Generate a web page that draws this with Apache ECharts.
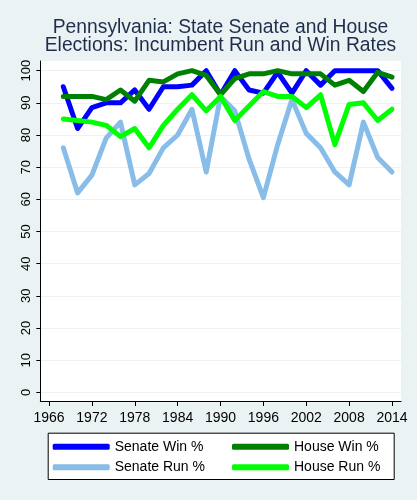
<!DOCTYPE html>
<html>
<head>
<meta charset="utf-8">
<script src="https://cdn.jsdelivr.net/npm/echarts@6/dist/echarts.min.js"></script>
<style>
html,body{margin:0;padding:0;background:#eaf2f3;}
#chart{width:417px;height:500px;}
</style>
</head>
<body>
<div id="chart"></div>
<script>
var years = [1968,1970,1972,1974,1976,1978,1980,1982,1984,1986,1988,1990,1992,1994,1996,1998,2000,2002,2004,2006,2008,2010,2012,2014];
var senateWin = [95,82,88.5,90,90,94,88,95,95,95.5,100,92.5,100,94,93,99.5,93,100,95.5,100,100,100,100,94.5];
var houseWin  = [92,92,92,91,94,90.5,97,96.5,99,100,98.5,92.5,97.5,99,99,100,99,99,99,95.5,97,93.5,99.5,98];
var senateRun = [76,62,67.5,79,84,64.5,68,76,80,88,68.5,92,87.5,72.5,60.5,77,91,80.5,76,68.5,64.5,84,73,68.5];
var houseRun  = [85,84.5,84,83,79.5,82,76,83,88,92.5,87.5,92,84.5,89,93.5,92,92,88.5,92.5,77,89.5,90,84.5,88];
var xTicks = [1966,1972,1978,1984,1990,1996,2002,2008,2014];
var yTicks = [0,10,20,30,40,50,60,70,80,90,100];

function pairs(vals){ return years.map(function(y,i){ return [y, vals[i]]; }); }

var chart = echarts.init(document.getElementById('chart'), null, {renderer:'canvas'});
var font = 'Liberation Sans, Arial, Helvetica, sans-serif';
function line(name, vals, color){
  return {
    name: name, type: 'line', data: pairs(vals), showSymbol: false, symbol: 'none',
    lineStyle: {color: color, width: 5, join: 'round', cap: 'round'},
    itemStyle: {color: color}, animation: false
  };
}
chart.setOption({
  backgroundColor: '#eaf2f3',
  animation: false,
  title: {
    text: 'Pennsylvania: State Senate and House\nElections: Incumbent Run and Win Rates',
    left: 220.5, top: 18.5, padding: 0, textAlign: 'center',
    textStyle: {fontFamily: font, fontSize: 19.3, fontWeight: 'normal', color: '#1f2d4d', lineHeight: 18}
  },
  grid: {left: 40.3, right: 16, top: 61, bottom: 99, show: true, backgroundColor: '#ffffff', borderWidth: 0, containLabel: false},
  xAxis: {
    type: 'value', min: 1964.78, max: 2015.26,
    axisLine: {show: true, onZero: false, lineStyle: {color: '#000', width: 1}},
    axisTick: {show: true, length: 5, lineStyle: {color: '#000'}, customValues: xTicks},
    axisLabel: {show: true, customValues: xTicks, fontFamily: font, fontSize: 14, color: '#000', margin: 10, formatter: function(v){return String(v);}},
    splitLine: {show: false}
  },
  yAxis: {
    type: 'value', min: -2.7, max: 103,
    axisLine: {show: true, onZero: false, lineStyle: {color: '#000', width: 1}},
    axisTick: {show: true, length: 4, lineStyle: {color: '#000'}, customValues: yTicks},
    axisLabel: {show: true, customValues: yTicks, rotate: 90, fontFamily: font, fontSize: 13, color: '#000', margin: 7},
    splitLine: {show: true, lineStyle: {color: '#eaf2f3', width: 1}}
  },
  legend: [
    {
      orient: 'vertical', left: 52.7, top: 438.7, padding: 0, itemGap: 4.6,
      itemWidth: 57, itemHeight: 6, icon: 'roundRect',
      data: ['Senate Win %', 'Senate Run %'],
      textStyle: {fontFamily: font, fontSize: 14, color: '#000', lineHeight: 16}
    },
    {
      orient: 'vertical', left: 232, top: 438.7, padding: 0, itemGap: 4.6,
      itemWidth: 57, itemHeight: 6, icon: 'roundRect',
      data: ['House Win %', 'House Run %'],
      textStyle: {fontFamily: font, fontSize: 14, color: '#000', lineHeight: 16}
    }
  ],
  graphic: [{
    type: 'rect', left: 47.7, top: 432.7, z: -1, silent: true,
    shape: {width: 346, height: 46.3},
    style: {fill: '#ffffff', stroke: '#000000', lineWidth: 1}
  }],
  series: [
    line('Senate Win %', senateWin, '#0000ff'),
    line('Senate Run %', senateRun, '#87bde8'),
    line('House Win %', houseWin, '#008000'),
    line('House Run %', houseRun, '#00ff00')
  ]
});
</script>
</body>
</html>
